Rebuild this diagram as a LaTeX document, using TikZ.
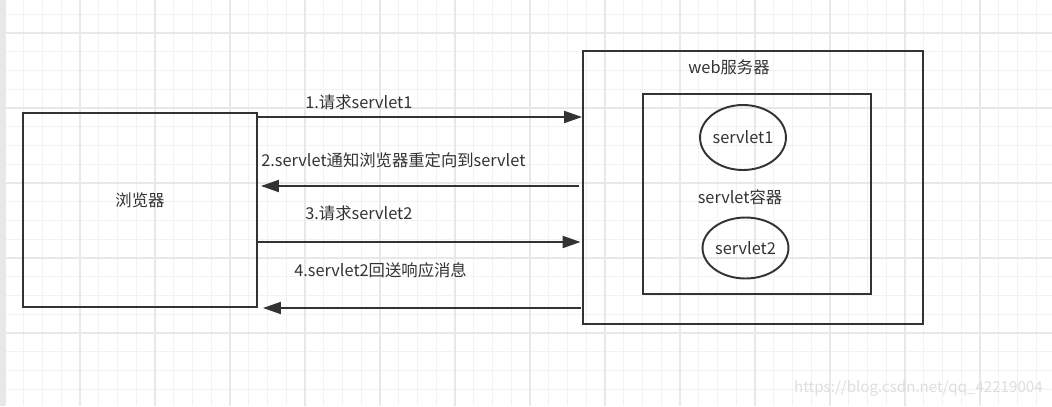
\documentclass[tikz,border=0pt]{standalone}
\usepackage{fontspec}
\setmainfont{Noto Sans CJK SC}
\usetikzlibrary{arrows.meta,shapes.geometric}
\definecolor{ink}{HTML}{333333}
\definecolor{gridminor}{HTML}{F2F2F2}
\definecolor{gridmajor}{HTML}{E8E8E8}
\begin{document}
\begin{tikzpicture}[x=0.02cm,y=-0.02cm,
  box/.style={draw=ink,line width=1.1pt,inner sep=0pt},
  servlet/.style={ellipse,draw=ink,line width=1.1pt,inner sep=0pt,text=ink,
    font=\fontsize{9.3}{11}\selectfont},
  msg/.style={-{Triangle[length=3.6mm,width=2.4mm]},draw=ink,line width=1.1pt},
  lbl/.style={text=ink,font=\fontsize{9.3}{11}\selectfont,inner sep=0pt}]
        % background grid
        \useasboundingbox (0,0) rectangle (1052,406);
        \fill[white] (0,0) rectangle (1052,406);
        \foreach \i in {0,...,55}
          \draw[gridminor,line width=0.5pt] (5+18.75*\i,0) -- (5+18.75*\i,406);
        \foreach \i in {0,...,21}
          \draw[gridminor,line width=0.5pt] (0,14.25+18.75*\i) -- (1052,14.25+18.75*\i);
        \foreach \i in {0,...,13}
          \draw[gridmajor,line width=0.6pt] (5+75*\i,0) -- (5+75*\i,406);
        \foreach \i in {0,...,5}
          \draw[gridmajor,line width=0.6pt] (0,33+75*\i) -- (1052,33+75*\i);
        \fill[gridmajor] (0,0) rectangle (4,406);

        % browser
        \node[box,minimum width=4.68cm,minimum height=3.88cm] (browser) at (140,210) {};
        \node[lbl] (browsertext) at (140,200) {浏览器};

        % web server with servlet container
        \node[box,minimum width=6.8cm,minimum height=5.46cm] (server) at (753,187.5) {};
        \node[lbl] (servertext) at (729,67) {web服务器};
        \node[box,minimum width=4.56cm,minimum height=4cm] (container) at (757,194) {};
        \node[lbl] (containertext) at (740,197) {servlet容器};
        \node[servlet,minimum width=1.58cm,minimum height=1.3cm] (servletA) at (743,137.5) {servlet1};
        \node[servlet,minimum width=1.52cm,minimum height=1.22cm] (servletB) at (745.5,248) {servlet2};

        % messages
        \draw[msg] (browser.east |- 0,117) -- (server.west |- 0,117);
        \node[lbl,anchor=west] (msgA) at (305,102) {1.请求servlet1};
        \draw[msg,shorten <=0.06cm,shorten >=0.06cm] (server.west |- 0,186) -- (browser.east |- 0,186);
        \node[lbl,anchor=west] (msgB) at (261,160) {2.servlet通知浏览器重定向到servlet};
        \draw[msg,shorten >=0.03cm] (browser.east |- 0,242) -- (server.west |- 0,242);
        \node[lbl,anchor=west] (msgC) at (305,213) {3.请求servlet2};
        \draw[msg,shorten <=0.02cm,shorten >=0.1cm] (server.west |- 0,308) -- (browser.east |- 0,308);
        \node[lbl,anchor=west] (msgD) at (294,270) {4.servlet2回送响应消息};

        % watermark
        \node[text=black!13,font=\fontsize{8.6}{10}\selectfont,inner sep=0pt,anchor=east] (mark) at (1043,388) {https://blog.csdn.net/qq\_42219004};
        \end{tikzpicture}
\end{document}
